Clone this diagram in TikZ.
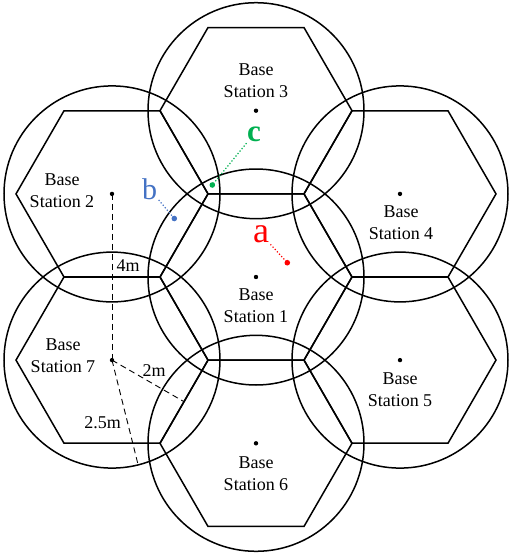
\documentclass[tikz,border=0pt]{standalone}
\usepackage{fontspec}
\setmainfont{Liberation Serif}
\usetikzlibrary{calc}
\definecolor{pred}{RGB}{255,0,0}
\definecolor{pblue}{RGB}{68,114,196}
\definecolor{pgreen}{RGB}{0,176,80}
\begin{document}
\begin{tikzpicture}[x=1pt,y=-1pt,
  cell/.style={line width=1.5pt},
  meas/.style={dash pattern=on 6pt off 4pt, line width=0.9pt},
  lbl/.style={font=\fontsize{18}{22}\selectfont, align=center, inner sep=0pt},
  mlbl/.style={font=\fontsize{18}{22}\selectfont, inner sep=0pt},
  ptr/.style={dotted, line width=1.2pt},
  letter/.style={inner sep=1.5pt}
]
\useasboundingbox (0,0) rectangle (512,555);
\def\R{96}
\def\rc{108}
\coordinate (s1) at (256,277);
\coordinate (s2) at (112,193.9);
\coordinate (s3) at (256,110.7);
\coordinate (s4) at (400,193.9);
\coordinate (s5) at (400,360.1);
\coordinate (s6) at (256,443.3);
\coordinate (s7) at (112,360.1);
\foreach \c in {s1,s2,s3,s4,s5,s6,s7} {
  \draw[cell] ($(\c)+(\R,0)$) -- ++(120:\R) -- ++(180:\R) -- ++(240:\R) -- ++(300:\R) -- ++(0:\R) -- cycle;
  \draw[cell] (\c) circle (\rc);
  \fill (\c) circle (2.2);
}
% station labels
\node[lbl] (l1) at (256,306) {Base\\Station 1};
\node[lbl] (l2) at (62,191) {Base\\Station 2};
\node[lbl] (l3) at (256,81) {Base\\Station 3};
\node[lbl] (l4) at (401,223) {Base\\Station 4};
\node[lbl] (l5) at (400,390) {Base\\Station 5};
\node[lbl] (l6) at (256,474) {Base\\Station 6};
\node[lbl] (l7) at (63,356) {Base\\Station 7};
% measurements
\coordinate (e2) at ($(s7)+(30:83.14)$);
\coordinate (e25) at ($(s7)+(76:\rc)$);
\draw[meas] (s2) -- (s7);
\draw[meas] (s7) -- (e2);
\draw[meas] (s7) -- (e25);
\node[mlbl] (m4) at (128,265.5) {4m};
\node[mlbl] (m2) at (154,371) {2m};
\node[mlbl] (m25) at (102.5,422.5) {2.5m};
% points a, b, c
\coordinate (pa) at (287.3,262.7);
\coordinate (pb) at (174.3,218.5);
\coordinate (pc) at (212.3,185);
\node[letter, text=pred, font=\fontsize{36}{40}\selectfont] (ta) at (261,234) {a};
\node[letter, text=pblue, font=\fontsize{30}{34}\selectfont] (tb) at (149.5,189) {b};
\node[letter, text=pgreen, font=\fontsize{31}{34}\selectfont\bfseries] (tc) at (254,134) {c};
\draw[ptr, pred] (ta) -- (pa);
\draw[ptr, pblue] (tb) -- (pb);
\draw[ptr, pgreen] (tc) -- (pc);
\fill[pred] (pa) circle (2.8);
\fill[pblue] (pb) circle (2.8);
\fill[pgreen] (pc) circle (2.8);
\end{tikzpicture}
\end{document}
